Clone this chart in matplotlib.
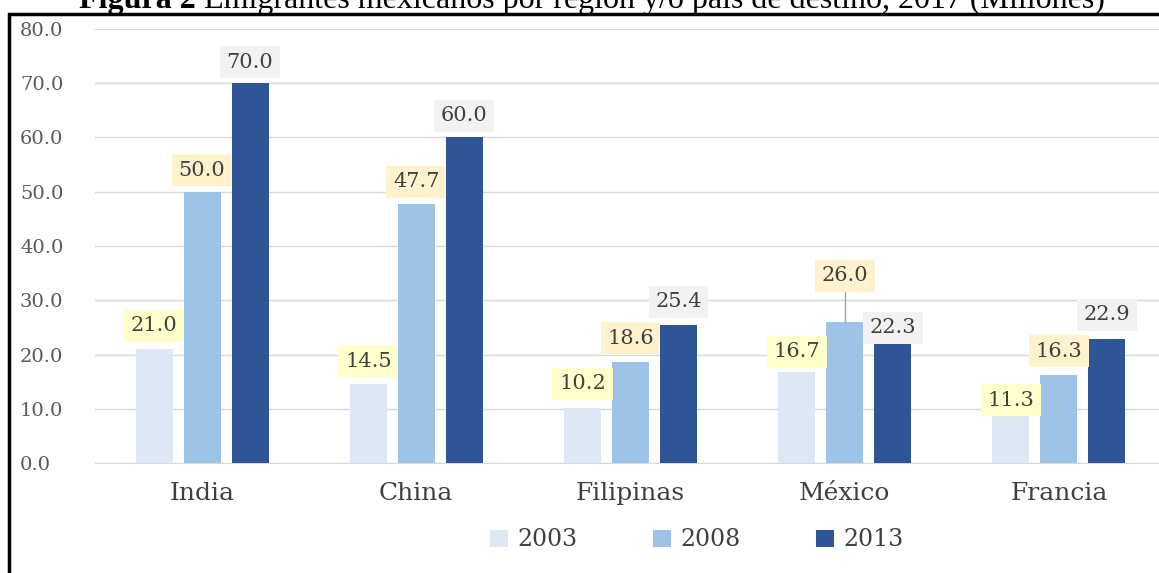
import matplotlib.pyplot as plt
import numpy as np

# datos
paises = ["India", "China", "Filipinas", "México", "Francia"]
anios = ["2003", "2008", "2013"]
v2003 = [21.0, 14.5, 10.2, 16.7, 11.3]
v2008 = [50.0, 47.7, 18.6, 26.0, 16.3]
v2013 = [70.0, 60.0, 25.4, 22.3, 22.9]
yticks = [0, 10, 20, 30, 40, 50, 60, 70, 80]

series = [v2003, v2008, v2013]
colores = ["#DEE8F4", "#9DC3E6", "#2F5597"]
fondos = ["#FFFFCC", "#FFF2CC", "#F2F2F2"]

fig = plt.figure(figsize=(11.59, 5.73), dpi=100)
ax = fig.add_axes([95 / 1159, 110 / 573, 1071 / 1159, 434 / 573])

x = np.arange(len(paises))
ancho = 0.173
paso = 0.224
for i, vals in enumerate(series):
    ax.bar(x + (i - 1) * paso, vals, ancho, color=colores[i], label=anios[i], zorder=3)

# etiquetas de datos (desplazamiento vertical en unidades del eje)
desp = [[4.3, 4.3, 4.4, 3.8, 0.3],
        [4.0, 4.1, 4.4, 8.5, 4.3],
        [3.9, 4.0, 4.3, 2.6, 4.4]]
for i, vals in enumerate(series):
    for j, v in enumerate(vals):
        xx = x[j] + (i - 1) * paso
        ax.text(xx, v + desp[i][j], f"{v:.1f}", ha="center", va="center",
                fontsize=15, family="DejaVu Serif", color="#404040", zorder=5,
                bbox=dict(boxstyle="square,pad=0.32", fc=fondos[i], ec="none"))
# línea guía de México 2008
ax.plot([x[3], x[3]], [26.0, 26.0 + 8.5 - 2.9], color="#A6A6A6", lw=1, zorder=4)

ax.set_xlim(-0.5, len(paises) - 0.5)
ax.set_ylim(0, 80)
ax.set_yticks(yticks)
ax.set_yticklabels([f"{t:.1f}" for t in yticks], family="DejaVu Serif",
                   fontsize=14, color="#595959", ha="left")
ax.tick_params(axis="y", length=0, pad=54)
ax.set_xticks(x)
ax.set_xticklabels(paises, family="DejaVu Serif", fontsize=18, color="#404040")
ax.tick_params(axis="x", length=0, pad=14)
ax.grid(axis="y", color="#D9D9D9", lw=1, zorder=0)
for s in ["top", "right", "left"]:
    ax.spines[s].set_visible(False)
ax.spines["bottom"].set_color("#D9D9D9")

ax.legend(loc="center", bbox_to_anchor=(697 / 1159, 33 / 573),
          bbox_transform=fig.transFigure, ncol=3, frameon=False,
          prop={"family": "DejaVu Serif", "size": 17}, labelcolor="#404040",
          handlelength=0.75, handleheight=0.75, columnspacing=3.2, handletextpad=0.4)

# marco
fig.patches.append(plt.Rectangle((9 / 1159, -0.05), 1.1, 1 - 14 / 573 + 0.05,
                                 transform=fig.transFigure, fill=False,
                                 ec="black", lw=2.5))

# título (cortado en la parte superior)
r = fig.canvas.get_renderer()
t1 = fig.text(0, 1 - 8 / 573, "Figura 2", fontsize=23, family="Liberation Serif",
              fontweight="bold", va="baseline")
t2 = fig.text(0, 1 - 8 / 573, " Emigrantes mexicanos por región y/o país de destino, 2017 (Millones)",
              fontsize=23, family="Liberation Serif", va="baseline")
w1 = t1.get_window_extent(r).width
w2 = t2.get_window_extent(r).width
x0 = 592 - (w1 + w2) / 2
t1.set_x(x0 / 1159)
t2.set_x((x0 + w1) / 1159)

fig.savefig("out.png", dpi=100)
